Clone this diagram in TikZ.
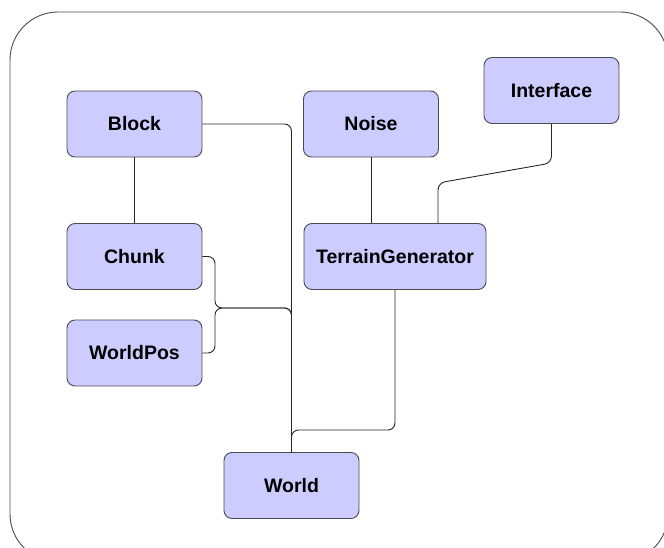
\documentclass[tikz,border=0pt]{standalone}
\usepackage{fontspec}
\setmainfont{Liberation Sans}
\definecolor{boxfill}{HTML}{CCCCFF}
\definecolor{boxline}{HTML}{4A4A55}
\begin{document}
\begin{tikzpicture}[x=1pt,y=-1pt,
  cls/.style={draw=boxline, fill=boxfill, rounded corners=8pt, line width=0.9pt,
    font=\bfseries\fontsize{19.5}{22}\selectfont, minimum height=66pt, minimum width=135pt, inner sep=0pt},
  link/.style={draw=black!85, line width=0.9pt, rounded corners=7pt}]
\useasboundingbox (0,0) rectangle (664,548);
\clip (0,0) rectangle (664,548);
\draw[draw=black!70, line width=0.9pt, rounded corners=48pt] (10,12) rectangle (668,562);

\node[cls] (block) at (134.5,124) {Block};
\node[cls] (noise) at (371,124) {Noise};
\node[cls] (iface) at (551.5,90.5) {Interface};
\node[cls] (chunk) at (134.5,256.5) {Chunk};
\node[cls, minimum width=182pt] (tg) at (395,256.5) {TerrainGenerator};
\node[cls] (wpos) at (134.5,353) {WorldPos};
\node[cls] (world) at (291.5,485.5) {World};

\coordinate (j1) at (215,308);
\coordinate (j2) at (291.5,430);
\coordinate (k1) at (551.5,163);
\coordinate (k2) at (438,183);

\draw[link] (block.south) -- (chunk.north);
\draw[link] (block.east) -| (world.north);
\draw[link] (chunk.east) -| (j1) -| (world.north);
\draw[link] (wpos.east) -| (j1) -| (world.north);
\draw[link] (tg.south) |- (j2) -- (world.north);
\draw[link] (noise.south) -- (noise.south |- tg.north);
\draw[link] (iface.south) -- (k1) -- (k2) -- (k2 |- tg.north);
\end{tikzpicture}
\end{document}
